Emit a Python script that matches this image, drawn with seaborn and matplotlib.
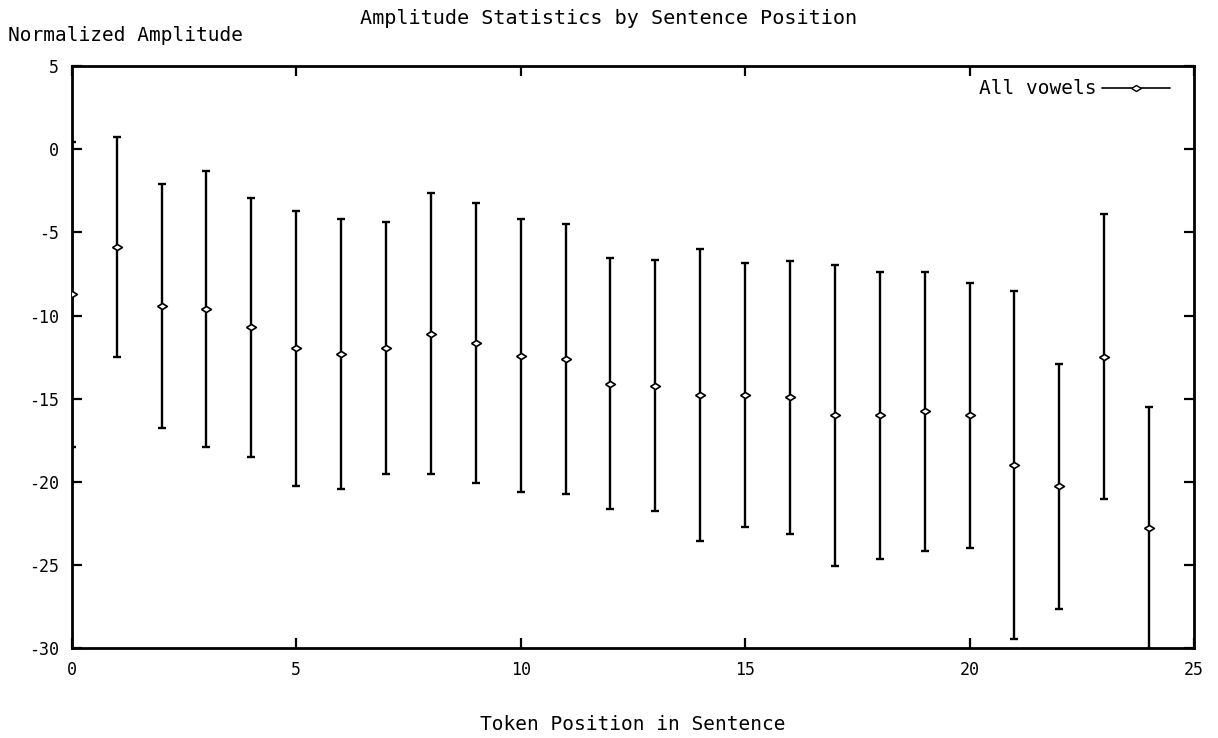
import matplotlib
matplotlib.use("Agg")
import matplotlib.pyplot as plt
from matplotlib.lines import Line2D
import seaborn as sns
import pandas as pd

# Data
positions = list(range(25))
means = [-8.72, -5.87, -9.42, -9.58, -10.70, -11.96, -12.32, -11.95, -11.08, -11.65,
         -12.40, -12.60, -14.08, -14.20, -14.77, -14.76, -14.92, -16.00, -16.00, -15.75,
         -16.00, -18.97, -20.27, -12.46, -22.75]
errors = [9.16, 6.63, 7.33, 8.30, 7.78, 8.28, 8.12, 7.56, 8.44, 8.40,
          8.22, 8.13, 7.57, 7.55, 8.76, 7.93, 8.19, 9.05, 8.65, 8.40,
          7.94, 10.47, 7.36, 8.57, 7.28]
x_ticks = [0, 5, 10, 15, 20, 25]
y_ticks = [5, 0, -5, -10, -15, -20, -25, -30]

df = pd.DataFrame({"pos": positions, "mean": means, "err": errors})

sns.set_style("ticks")
plt.rcParams["font.family"] = ["DejaVu Sans Mono", "DejaVu Sans"]
plt.rcParams["text.color"] = "black"
plt.rcParams["axes.labelcolor"] = "black"

fig = plt.figure(figsize=(12.18, 7.38), dpi=100)
ax = fig.add_axes([0.0589, 0.1215, 0.9214, 0.7889])

diamond = [(-1, 0), (0, 0.62), (1, 0), (0, -0.62), (-1, 0)]

ax.errorbar(df["pos"], df["mean"], yerr=df["err"], fmt="none", ecolor="black",
            elinewidth=1.7, capsize=3.2, capthick=1.7)
sns.scatterplot(data=df, x="pos", y="mean", ax=ax, marker=diamond, s=50,
                facecolor="white", edgecolor="black", linewidth=1.2, zorder=3,
                legend=False)

ax.set_xlim(0, 25)
ax.set_ylim(-30, 5)
ax.set_xticks(x_ticks)
ax.set_yticks(y_ticks)
ax.set_xticklabels([str(t) for t in x_ticks])
ax.set_yticklabels([str(t) for t in y_ticks])
ax.tick_params(direction="in", length=7, width=1.6, top=True, right=True,
               labelsize=12, pad=9, colors="black")
for s in ax.spines.values():
    s.set_linewidth(2)
    s.set_color("black")

ax.set_xlabel("Token Position in Sentence", fontsize=14, labelpad=26)
ax.set_ylabel("")
fig.text(0.0066, 0.952, "Normalized Amplitude", fontsize=14, ha="left", va="center")
fig.text(0.5, 0.975, "Amplitude Statistics by Sentence Position", fontsize=14.5,
         ha="center", va="center")

handle = Line2D([0], [0], color="black", linewidth=1.2, marker=diamond, markersize=7,
                markerfacecolor="white", markeredgecolor="black")
leg = ax.legend([handle], ["All vowels"], loc="upper right", frameon=False,
                markerfirst=False, fontsize=14, handlelength=3.45,
                handletextpad=0.3, borderaxespad=0.6,
                bbox_to_anchor=(0.9955, 1.0105))

fig.savefig("out.png", dpi=100)
